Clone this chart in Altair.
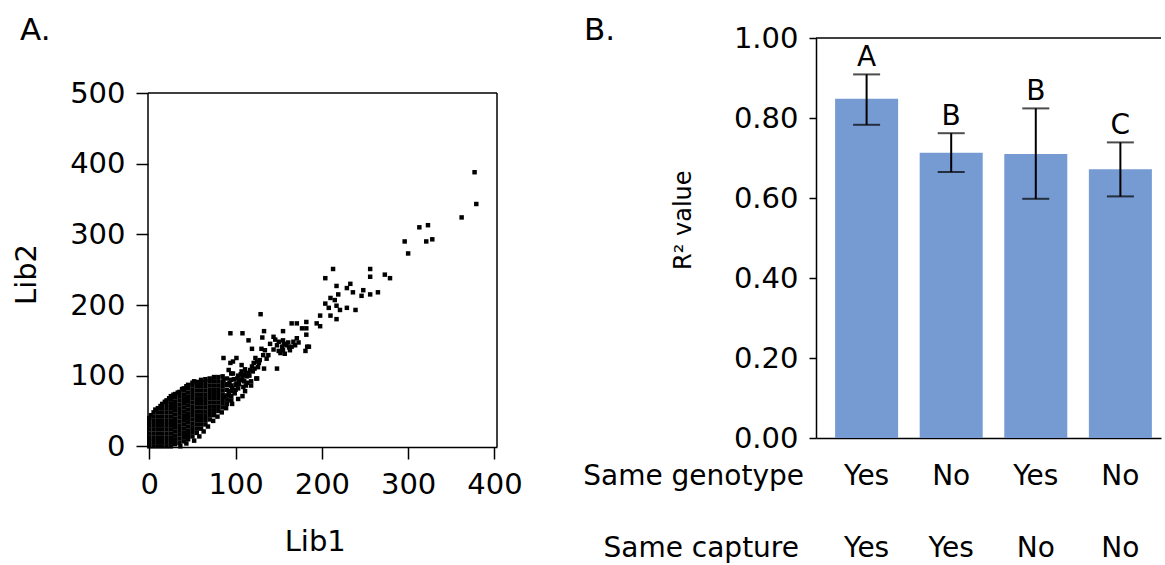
import altair as alt
import pandas as pd

# ---------------- Panel A data (Lib1 vs Lib2 counts) ----------------
# dense cluster near origin: (Lib1 value, [Lib2 values])
dense_cols = [
    (0,  [0, 6, 12, 18, 24, 30, 36, 40]),
    (5,  [0, 6, 12, 18, 24, 30, 36, 42, 48]),
    (10, [0, 6, 12, 18, 24, 30, 36, 42, 48, 54]),
    (15, [0, 6, 12, 18, 24, 30, 36, 42, 48, 54, 60]),
    (20, [0, 6, 12, 18, 24, 30, 36, 42, 48, 54, 60, 65]),
    (25, [0, 6, 12, 18, 24, 30, 36, 42, 48, 54, 60, 66, 71]),
    (30, [3, 9, 15, 21, 27, 33, 39, 45, 51, 57, 63, 69, 74]),
    (35, [5, 11, 17, 23, 29, 35, 41, 47, 53, 59, 65, 71, 77]),
    (40, [7, 13, 19, 25, 31, 37, 43, 49, 55, 61, 67, 73, 79, 82]),
    (45, [10, 16, 22, 28, 34, 40, 46, 52, 58, 64, 70, 76, 82, 87]),
    (50, [14, 20, 26, 32, 38, 44, 50, 56, 62, 68, 74, 80, 86, 90]),
    (55, [19, 25, 31, 37, 43, 49, 55, 61, 67, 73, 79, 85, 91]),
    (60, [25, 31, 37, 43, 49, 55, 61, 67, 73, 79, 85, 91, 94]),
    (65, [31, 37, 43, 49, 55, 61, 67, 73, 79, 85, 91, 95]),
    (70, [38, 44, 50, 56, 62, 68, 74, 80, 86, 92, 96]),
    (75, [44, 50, 56, 62, 68, 74, 80, 86, 92, 98]),
    (80, [50, 56, 62, 68, 74, 80, 86, 92, 98]),
    (85, [55, 61, 67, 73, 79, 85, 91, 99]),
    (90, [60, 66, 72, 80, 88, 96]),
    (95, [65, 71, 78, 86, 94, 103]),
]

# scattered points
sparse_lib1 = [
    377, 379, 362, 313, 323, 321, 328, 296, 300,
    213, 204, 256, 256, 273, 279, 217, 233, 229, 236, 219, 248, 246, 256, 265,
    210, 215, 204, 208, 217, 221, 229, 239, 198, 210, 217, 194, 198,
    165, 171, 182, 177, 182, 182, 155, 133, 129, 94, 108, 115, 131, 144, 140,
    134, 132, 128, 125, 123, 121, 119, 117, 115, 113, 109, 105, 101, 97, 94,
    86, 97, 101, 92, 107, 109, 103, 99, 90, 86, 108, 148, 133, 183, 185, 119,
    130, 181, 146, 150, 155, 161, 167, 173, 148, 154, 159, 165, 144, 150, 155,
    163, 152, 157, 169, 171, 156, 162,
    2, 7, 13, 18, 23, 28, 33, 38, 43, 52,
    36, 43, 52, 58, 63, 68, 74, 79, 84, 89, 96, 103, 111, 118, 125,
    100, 102, 104, 106, 110, 112, 116, 120, 124, 126, 118, 113,
    88, 92, 96, 100, 104, 108, 112, 122, 93, 98, 103, 107, 111, 127, 136, 138,
]
sparse_lib2 = [
    388, 343, 324, 310, 313, 290, 293, 290, 273,
    251, 238, 251, 240, 243, 238, 227, 230, 224, 218, 215, 221, 213, 215, 218,
    210, 207, 202, 196, 199, 193, 196, 193, 185, 185, 180, 174, 170,
    174, 174, 176, 167, 167, 158, 163, 163, 187, 160, 160, 150, 154, 155, 145,
    136, 129, 122, 120, 125, 118, 113, 108, 103, 99, 101, 94, 89, 103, 118,
    125, 120, 125, 108, 115, 84, 82, 75, 87, 94, 71, 110, 110, 141, 141, 138,
    138, 135, 151, 148, 150, 147, 148, 147, 143, 141, 143, 141, 137, 135, 136,
    136, 132, 131, 143, 153, 145, 140,
    44, 52, 57, 63, 68, 73, 76, 81, 85, 92,
    0, 4, 8, 14, 21, 28, 36, 42, 48, 54, 60, 67, 78, 86, 96,
    80, 96, 88, 102, 92, 86, 100, 106, 96, 112, 92, 90,
    70, 76, 82, 87, 93, 97, 104, 110, 90, 95, 100, 106, 109, 118, 124, 129,
]

lib1 = []
lib2 = []
for xv, yvals in dense_cols:
    for yv in yvals:
        lib1.append(xv)
        lib2.append(yv)
lib1 += sparse_lib1
lib2 += sparse_lib2
scatter_df = pd.DataFrame({"Lib1": lib1, "Lib2": lib2})

# ---------------- Panel B data ----------------
conds = ["Yes/Yes", "No/Yes", "Yes/No", "No/No"]
same_genotype = ["Yes", "No", "Yes", "No"]
same_capture = ["Yes", "Yes", "No", "No"]
r2_value = [0.848, 0.713, 0.710, 0.672]
err_low = [0.783, 0.665, 0.598, 0.604]
err_high = [0.909, 0.762, 0.824, 0.739]
sig_letters = ["A", "B", "B", "C"]

bar_df = pd.DataFrame({
    "cond": conds, "genotype": same_genotype, "capture": same_capture,
    "r2": r2_value, "lo": err_low, "hi": err_high, "letter": sig_letters,
})

FONT = "DejaVu Sans"
one = pd.DataFrame({"k": [0]})

# ---------------- Panel A chart ----------------
xs = alt.Scale(domain=[-1.5, 403], nice=False, zero=False)
ys = alt.Scale(domain=[-1, 578], nice=False, zero=False)

pts = alt.Chart(scatter_df).mark_square(size=20, color="black", opacity=1).encode(
    x=alt.X("Lib1:Q", scale=xs, axis=alt.Axis(
        values=[0, 100, 200, 300, 400], title="Lib1", tickSize=12, labelPadding=11,
        titleX=166.7, titleY=103, titleBaseline="alphabetic", titleAlign="center",
        titleFontSize=29)),
    y=alt.Y("Lib2:Q", scale=ys, axis=alt.Axis(
        values=[0, 100, 200, 300, 400, 500], title="Lib2", tickSize=12, labelPadding=11,
        domain=False, titleX=-122, titleY=236, titleAngle=270, titleBaseline="middle",
        titleAlign="center", titleFontSize=29)),
)
left_rule = alt.Chart(one).mark_rule(color="black", strokeWidth=1.5).encode(
    x=alt.datum(-1.5), y=alt.datum(-1), y2=alt.datum(500))
top_rule = alt.Chart(one).mark_rule(color="black", strokeWidth=1.5).encode(
    y=alt.datum(500), x=alt.datum(-1.5), x2=alt.datum(403))
right_rule = alt.Chart(one).mark_rule(color="black", strokeWidth=1.5).encode(
    x=alt.datum(403), y=alt.datum(-1), y2=alt.datum(500))
label_a = alt.Chart(one).mark_text(text="A.", align="left", baseline="alphabetic",
                                   fontSize=31, font=FONT, color="black").encode(
    x=alt.value(-128), y=alt.value(1.5))

panel_a = alt.layer(pts, left_rule, top_rule, right_rule, label_a).properties(
    width=349, height=409)

# ---------------- Panel B chart ----------------
xb = alt.Scale(domain=conds, paddingInner=0.255, paddingOuter=0.1667, align=0.677)
yb = alt.Scale(domain=[0, 1], nice=False)

x_enc = alt.X("cond:N", scale=xb, sort=conds,
              axis=alt.Axis(labels=False, ticks=False, title=None, domain=True))

bars = alt.Chart(bar_df).mark_bar(color="#769bd3").encode(
    x=x_enc,
    y=alt.Y("r2:Q", scale=yb, axis=alt.Axis(
        values=[0, 0.2, 0.4, 0.6, 0.8, 1.0], format=".2f", tickSize=7, labelPadding=11,
        title="R² value", titleFontSize=24, titleX=-132.5, titleY=181.7,
        titleAngle=270, titleBaseline="middle", titleAlign="center")),
)
err = alt.Chart(bar_df).mark_rule(color="black", strokeWidth=2).encode(
    x=x_enc, y="lo:Q", y2="hi:Q")
cap_lo = alt.Chart(bar_df).mark_tick(color="black", size=27, thickness=2).encode(
    x=x_enc, y="lo:Q")
cap_hi = alt.Chart(bar_df).mark_tick(color="black", size=27, thickness=2).encode(
    x=x_enc, y="hi:Q")
letters = alt.Chart(bar_df).mark_text(baseline="alphabetic", dy=-8, fontSize=28,
                                      font=FONT, color="black").encode(
    x=x_enc, y="hi:Q", text="letter:N")
top_line = alt.Chart(one).mark_rule(color="black", strokeWidth=1.5).encode(
    y=alt.datum(1.0))
geno_txt = alt.Chart(bar_df).mark_text(baseline="alphabetic", fontSize=28, font=FONT,
                                       color="black").encode(
    x=x_enc, y=alt.value(446.7), text="genotype:N")
capt_txt = alt.Chart(bar_df).mark_text(baseline="alphabetic", fontSize=28, font=FONT,
                                       color="black").encode(
    x=x_enc, y=alt.value(519), text="capture:N")
geno_lbl = alt.Chart(one).mark_text(text="Same genotype", align="right",
                                    baseline="alphabetic", fontSize=28, font=FONT,
                                    color="black").encode(
    x=alt.value(-12), y=alt.value(446.7))
capt_lbl = alt.Chart(one).mark_text(text="Same capture", align="right",
                                    baseline="alphabetic", fontSize=28, font=FONT,
                                    color="black").encode(
    x=alt.value(-17), y=alt.value(519))
label_b = alt.Chart(one).mark_text(text="B.", align="left", baseline="alphabetic",
                                   fontSize=31, font=FONT, color="black").encode(
    x=alt.value(-232), y=alt.value(1.5))

panel_b = alt.layer(bars, err, cap_lo, cap_hi, letters, top_line, geno_txt, capt_txt,
                    geno_lbl, capt_lbl, label_b).properties(width=345, height=400)

chart = alt.hconcat(panel_a, panel_b, spacing=60).properties(
    padding={"left": 12, "top": 14, "right": 0, "bottom": 0}
).configure_view(stroke=None).configure_axis(
    domainColor="black", domainWidth=1.5, tickColor="black", tickWidth=1.5,
    labelColor="black", labelFont=FONT, labelFontSize=29, titleFont=FONT,
    titleColor="black", titleFontWeight="normal", grid=False,
)

chart.save("out.html", embed_options={"renderer": "svg", "actions": False})
